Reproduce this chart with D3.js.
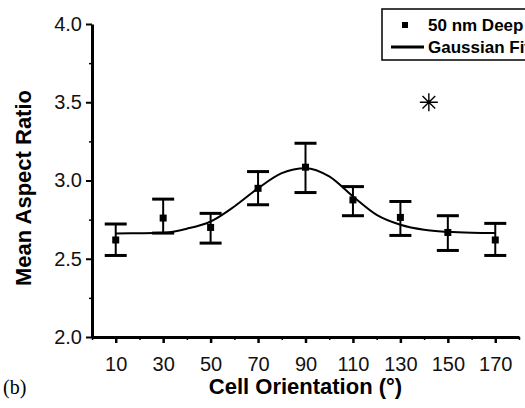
<!DOCTYPE html>
<html lang="en">
<head>
<meta charset="UTF-8">
<title>Mean Aspect Ratio vs Cell Orientation</title>
<script src="https://d3js.org/d3.v7.min.js"></script>
<style>
    body { margin: 0; background: #fff; }
    svg { display: block; font-family: "Liberation Sans", Arial, sans-serif; }
</style>
</head>
<body>
<div id="chart"></div>
<script>
    const orientations = [10, 30, 50, 70, 90, 110, 130, 150, 170];
    const meanRatio = [2.62, 2.76, 2.70, 2.95, 3.085, 2.876, 2.764, 2.668, 2.62];
    const errTop = [2.722, 2.881, 2.79, 3.057, 3.238, 2.961, 2.866, 2.775, 2.726];
    const errBottom = [2.521, 2.664, 2.60, 2.845, 2.923, 2.775, 2.649, 2.553, 2.521];

    // gaussian fit curve, sampled from the figure
    const fitX = [10, 20, 30, 40, 50, 60, 70, 80, 90, 100, 110, 120, 130, 140, 150, 160, 170];
    const fitY = [2.662, 2.663, 2.666, 2.692, 2.738, 2.834, 2.95, 3.047, 3.079, 3.026, 2.898, 2.78, 2.717, 2.685, 2.672, 2.666, 2.664];

    const xTicks = [10, 30, 50, 70, 90, 110, 130, 150, 170];
    const xMinor = [0, 20, 40, 60, 80, 100, 120, 140, 160, 180];
    const yTicks = [2.0, 2.5, 3.0, 3.5, 4.0];
    const yMinor = [2.25, 2.75, 3.25, 3.75];

    const font = "'Liberation Sans', Arial, sans-serif";
    const width = 525;
    const height = 408;
    const margin = { top: 24, right: 6, bottom: 71, left: 92 };
    const innerWidth = width - margin.left - margin.right;
    const innerHeight = height - margin.top - margin.bottom;

    const svg = d3.select("#chart")
        .append("svg")
        .attr("width", width)
        .attr("height", height);

    const g = svg.append("g")
        .attr("transform", `translate(${margin.left}, ${margin.top})`);

    const x = d3.scaleLinear().domain([0, 180]).range([0, innerWidth]);
    const y = d3.scaleLinear().domain([2, 4]).range([innerHeight, 0]);

    // minor ticks first (no labels), then major axes on top
    g.append("g")
        .attr("transform", `translate(0, ${innerHeight})`)
        .call(d3.axisBottom(x).tickValues(xMinor).tickSize(3))
        .call(a => a.select(".domain").remove())
        .call(a => a.selectAll("text").remove())
        .call(a => a.selectAll("line").attr("stroke-width", 1.5));

    g.append("g")
        .call(d3.axisLeft(y).tickValues(yMinor).tickSize(3))
        .call(a => a.select(".domain").remove())
        .call(a => a.selectAll("text").remove())
        .call(a => a.selectAll("line").attr("stroke-width", 1.5));

    const xAxis = g.append("g")
        .attr("transform", `translate(0, ${innerHeight})`)
        .call(d3.axisBottom(x).tickValues(xTicks).tickSize(6).tickSizeOuter(0).tickPadding(14))
        .attr("font-family", font)
        .attr("font-size", 20);
    xAxis.select(".domain").attr("stroke-width", 3);
    xAxis.selectAll("line").attr("stroke-width", 2.5);
    xAxis.selectAll("text").attr("fill", "#111");

    const yAxis = g.append("g")
        .call(d3.axisLeft(y).tickValues(yTicks).tickSize(6).tickSizeOuter(0).tickPadding(4)
            .tickFormat(d3.format(".1f")))
        .attr("font-family", font)
        .attr("font-size", 20);
    yAxis.select(".domain").attr("stroke-width", 3);
    yAxis.selectAll("line").attr("stroke-width", 2);
    yAxis.selectAll("text").attr("fill", "#111");

    // gaussian fit
    const line = d3.line()
        .x((d, i) => x(fitX[i]))
        .y(d => y(d))
        .curve(d3.curveMonotoneX);

    g.append("path")
        .datum(fitY)
        .attr("d", line)
        .attr("fill", "none")
        .attr("stroke", "#000")
        .attr("stroke-width", 2);

    // error bars
    const points = orientations.map((o, i) => ({ o, m: meanRatio[i], hi: errTop[i], lo: errBottom[i] }));
    const capW = 11;

    const bars = g.selectAll(".err")
        .data(points)
        .join("g")
        .attr("class", "err");

    bars.append("line")
        .attr("x1", d => x(d.o)).attr("x2", d => x(d.o))
        .attr("y1", d => y(d.hi)).attr("y2", d => y(d.lo))
        .attr("stroke", "#000").attr("stroke-width", 2);

    bars.append("line")
        .attr("x1", d => x(d.o) - capW).attr("x2", d => x(d.o) + capW)
        .attr("y1", d => y(d.hi)).attr("y2", d => y(d.hi))
        .attr("stroke", "#000").attr("stroke-width", 3);

    bars.append("line")
        .attr("x1", d => x(d.o) - capW).attr("x2", d => x(d.o) + capW)
        .attr("y1", d => y(d.lo)).attr("y2", d => y(d.lo))
        .attr("stroke", "#000").attr("stroke-width", 3);

    bars.append("rect")
        .attr("x", d => x(d.o) - 3.5)
        .attr("y", d => y(d.m) - 3.5)
        .attr("width", 7)
        .attr("height", 7)
        .attr("fill", "#000");

    // significance asterisk
    const ax = x(142), ay = y(3.5), r = 9;
    const star = d3.range(4).map(k => {
        const a = k * Math.PI / 4;
        return `M${ax - r * Math.cos(a)},${ay - r * Math.sin(a)}L${ax + r * Math.cos(a)},${ay + r * Math.sin(a)}`;
    }).join("");
    g.append("path")
        .attr("d", star)
        .attr("stroke", "#000")
        .attr("stroke-width", 1.4);

    // legend (runs off the right edge like the original)
    const legend = svg.append("g").attr("transform", "translate(382, 9)");
    legend.append("rect")
        .attr("width", 160)
        .attr("height", 51)
        .attr("fill", "#fff")
        .attr("stroke", "#000")
        .attr("stroke-width", 1.5);
    legend.append("rect")
        .attr("x", 20).attr("y", 13)
        .attr("width", 6).attr("height", 6)
        .attr("fill", "#000");
    legend.append("text")
        .attr("x", 46).attr("y", 22)
        .attr("font-size", 17).attr("font-weight", "bold")
        .text("50 nm Deep");
    legend.append("line")
        .attr("x1", 9).attr("x2", 42)
        .attr("y1", 38).attr("y2", 38)
        .attr("stroke", "#000").attr("stroke-width", 3);
    legend.append("text")
        .attr("x", 46).attr("y", 44)
        .attr("font-size", 17).attr("font-weight", "bold")
        .text("Gaussian Fit");

    // axis titles
    svg.append("text")
        .attr("x", margin.left + x(90))
        .attr("y", 394)
        .attr("text-anchor", "middle")
        .attr("font-size", 22)
        .attr("font-weight", "bold")
        .text("Cell Orientation (°)");

    svg.append("text")
        .attr("transform", `translate(31, 188) rotate(-90)`)
        .attr("text-anchor", "middle")
        .attr("font-size", 22)
        .attr("font-weight", "bold")
        .text("Mean Aspect Ratio");

    svg.append("text")
        .attr("x", 3)
        .attr("y", 394)
        .attr("font-family", "'Liberation Serif', 'Times New Roman', serif")
        .attr("font-size", 20)
        .text("(b)");
</script>
</body>
</html>
